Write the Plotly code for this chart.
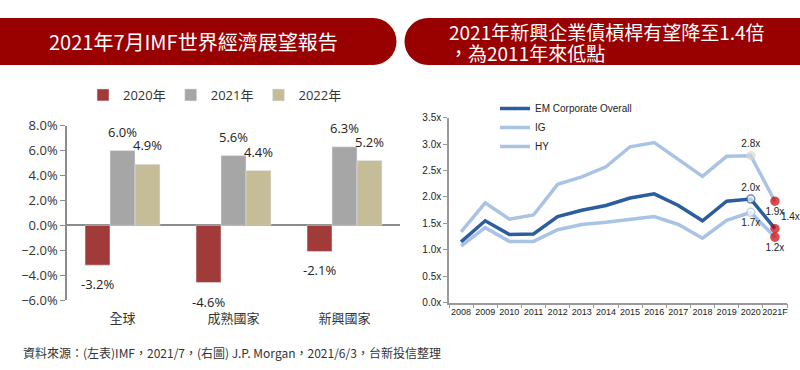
import plotly.graph_objects as go

# ---------------- data ----------------
regions = ["全球", "成熟國家", "新興國家"]
gdp_2020 = [-3.2, -4.6, -2.1]
gdp_2021 = [6.0, 5.6, 6.3]
gdp_2022 = [4.9, 4.4, 5.2]
bar_names = ["2020年", "2021年", "2022年"]

years = ["2008", "2009", "2010", "2011", "2012", "2013", "2014", "2015",
         "2016", "2017", "2018", "2019", "2020", "2021F"]
em_overall = [1.15, 1.55, 1.29, 1.30, 1.63, 1.75, 1.84, 1.98, 2.06, 1.84, 1.55, 1.92, 1.96, 1.40]
ig = [1.07, 1.42, 1.16, 1.16, 1.38, 1.48, 1.52, 1.57, 1.63, 1.48, 1.22, 1.56, 1.71, 1.24]
hy = [1.34, 1.89, 1.58, 1.66, 2.24, 2.38, 2.57, 2.95, 3.03, 2.70, 2.39, 2.77, 2.78, 1.92]
em_labels = {"2020": "2.0x", "2021F": "1.4x"}
ig_labels = {"2020": "1.7x", "2021F": "1.2x"}
hy_labels = {"2020": "2.8x", "2021F": "1.9x"}

title_left = "2021年7月IMF世界經濟展望報告"
title_right_1 = "2021年新興企業債槓桿有望降至1.4倍"
title_right_2 = "，為2011年來低點"
source_text = "資料來源：(左表)IMF，2021/7，(右圖) J.P. Morgan，2021/6/3，台新投信整理"

# ---------------- styles ----------------
W, H = 800, 370
RED_BANNER = "#990000"
bar_colors = ["#A13B3A", "#A6A6A6", "#C5BD97"]
DARK_BLUE = "#2C5D9E"
LIGHT_BLUE = "#A9C3E4"
LEFT_FONT = "Open Sans, Noto Sans CJK TC, sans-serif"
CJK_FONT = "Noto Sans CJK TC, sans-serif"
NARROW_FONT = "Liberation Sans Narrow, Arial Narrow, Liberation Sans, sans-serif"


def px_x(x):
    return x / W


def px_y(y):
    return (H - y) / H


fig = go.Figure()

# ---------------- left: bars ----------------
series = [gdp_2020, gdp_2021, gdp_2022]
for name, vals, col in zip(bar_names, series, bar_colors):
    fig.add_trace(go.Bar(
        x=regions, y=vals, name=name, marker_color=col,
        xaxis="x", yaxis="y", legend="legend",
    ))

bar_px = (400 - 67) / 3 * (1 - 0.325) / 3
for i, vals in enumerate(series):
    for reg, v in zip(regions, vals):
        fig.add_annotation(
            x=reg, y=v, xref="x", yref="y", text=f"{v:.1f}%", showarrow=False,
            xshift=(i - 1) * bar_px, yshift=19 if v >= 0 else -19,
            yanchor="middle",
            font=dict(family=LEFT_FONT, size=13, color="#222"),
        )

# ---------------- right: lines ----------------
def make_line(vals, name, color, width, labels, pos, m2020_fill, m2020_line):
    n = len(vals)
    sizes = [0] * (n - 2) + [8, 8]
    fills = [color] * (n - 2) + [m2020_fill, "#CC0000"]
    lines = [color] * (n - 2) + [m2020_line, "#CC0000"]
    texts = [labels.get(y, "") for y in years]
    return go.Scatter(
        x=years, y=vals, name=name, mode="lines+markers+text",
        line=dict(color=color, width=width),
        marker=dict(size=sizes, color=fills, line=dict(color=lines, width=1.5)),
        text=texts, textposition=pos,
        textfont=dict(family=NARROW_FONT, size=10, color="#222"),
        xaxis="x2", yaxis="y2", legend="legend2", cliponaxis=False,
    )

pos_em = ["top center"] * 13 + ["top right"]
pos_ig = ["bottom center"] * 14
pos_hy = ["top center"] * 13 + ["bottom center"]
fig.add_trace(make_line(em_overall, "EM Corporate Overall", DARK_BLUE, 3.5, em_labels, pos_em, "white", DARK_BLUE))
fig.add_trace(make_line(ig, "IG", LIGHT_BLUE, 3.5, ig_labels, pos_ig, "white", LIGHT_BLUE))
fig.add_trace(make_line(hy, "HY", LIGHT_BLUE, 3.5, hy_labels, pos_hy, "#D6D6D6", "#D6D6D6"))

# ---------------- banners ----------------
y0b, y1b = px_y(65), px_y(18)
shapes = [
    dict(type="rect", xref="paper", yref="paper", x0=0, x1=px_x(373), y0=y0b, y1=y1b,
         fillcolor=RED_BANNER, line_width=0, layer="below"),
    dict(type="circle", xref="paper", yref="paper", x0=px_x(373 - 23.5), x1=px_x(373 + 23.5),
         y0=y0b, y1=y1b, fillcolor=RED_BANNER, line_width=0, layer="below"),
    dict(type="rect", xref="paper", yref="paper", x0=px_x(428), x1=1, y0=y0b, y1=y1b,
         fillcolor=RED_BANNER, line_width=0, layer="below"),
    dict(type="circle", xref="paper", yref="paper", x0=px_x(428 - 23.5), x1=px_x(428 + 23.5),
         y0=y0b, y1=y1b, fillcolor=RED_BANNER, line_width=0, layer="below"),
]

annos = [
    dict(text=title_left, x=px_x(193), y=px_y(42), xref="paper", yref="paper",
         showarrow=False, xanchor="center", yanchor="middle",
         font=dict(family=CJK_FONT, size=20, color="white")),
    dict(text=title_right_1, x=px_x(447), y=px_y(31), xref="paper", yref="paper",
         showarrow=False, xanchor="left", yanchor="middle",
         font=dict(family=CJK_FONT, size=19, color="white")),
    dict(text=title_right_2, x=px_x(447), y=px_y(53), xref="paper", yref="paper",
         showarrow=False, xanchor="left", yanchor="middle",
         font=dict(family=CJK_FONT, size=19, color="white")),
    dict(text=source_text, x=px_x(21), y=px_y(352), xref="paper", yref="paper",
         showarrow=False, xanchor="left", yanchor="middle",
         font=dict(family=CJK_FONT, size=12, color="#333")),
]
for a in annos:
    fig.add_annotation(**a)

fig.update_layout(
    width=W, height=H,
    margin=dict(l=0, r=0, t=0, b=0, autoexpand=False),
    paper_bgcolor="white", plot_bgcolor="white",
    barmode="group", bargap=0.325, bargroupgap=0,
    shapes=shapes,
    xaxis=dict(domain=[px_x(67), px_x(400)], showline=False, ticks="",
               tickfont=dict(family=CJK_FONT, size=13, color="#333"),
               ticklabelstandoff=9, showgrid=False, zeroline=False, automargin=False),
    yaxis=dict(domain=[px_y(300), px_y(125.7)], range=[-6, 8], dtick=2,
               tickformat=".1f", ticksuffix="%", showgrid=False,
               showline=True, linecolor="#8C8C8C", linewidth=1.5,
               ticks="outside", ticklen=5, tickcolor="#8C8C8C",
               zeroline=True, zerolinecolor="#8C8C8C", zerolinewidth=1.5,
               automargin=False,
               tickfont=dict(family=LEFT_FONT, size=13, color="#333")),
    xaxis2=dict(domain=[px_x(449), px_x(787)], anchor="y2", type="category",
                range=[-0.5, 13.5], showline=True, linecolor="#999", linewidth=1.5,
                ticks="outside", tickson="boundaries", ticklen=4, tickcolor="#999",
                showgrid=False, zeroline=False, tickangle=0, automargin=False,
                tickfont=dict(family=NARROW_FONT, size=9, color="#222")),
    yaxis2=dict(domain=[px_y(302.7), px_y(117.7)], anchor="x2", range=[0, 3.5],
                dtick=0.5, tickformat=".1f", ticksuffix="x", showgrid=False,
                showline=True, linecolor="#999", linewidth=1.5,
                ticks="outside", ticklen=4, tickcolor="#999", zeroline=False,
                automargin=False,
                tickfont=dict(family=NARROW_FONT, size=10, color="#222")),
    legend=dict(orientation="h", x=px_x(215), xanchor="center", y=px_y(95),
                yanchor="middle", font=dict(family=LEFT_FONT, size=13, color="#333"),
                bgcolor="rgba(0,0,0,0)", itemclick=False),
    legend2=dict(orientation="v", x=px_x(495), xanchor="left", y=px_y(94),
                 yanchor="top", font=dict(family=NARROW_FONT, size=10, color="#222"),
                 bgcolor="rgba(0,0,0,0)", tracegroupgap=0),
    showlegend=True,
)

fig.write_html(
    "out.html",
    config={"displayModeBar": False},
    post_script="document.body.style.margin='0px';document.body.style.padding='0px';",
)
